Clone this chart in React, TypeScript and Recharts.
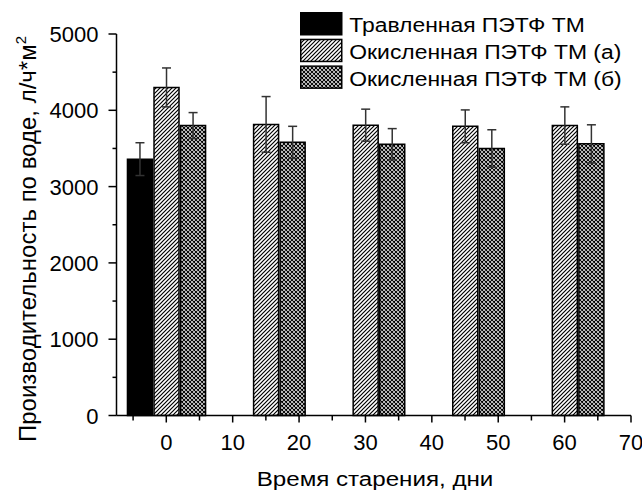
import React from 'react';
import { ComposedChart, Bar, XAxis, YAxis, ErrorBar, Cell, Legend } from 'recharts';

const seriesNames = ['Травленная ПЭТФ ТМ', 'Окисленная ПЭТФ ТМ (а)', 'Окисленная ПЭТФ ТМ (б)'];
const etchedDays = [-4];
const etchedValues = [3360];
const etchedErrors = [215];
const oxADays = [0, 15, 30, 45, 60];
const oxAValues = [4300, 3815, 3805, 3790, 3800];
const oxAErrors = [255, 365, 210, 215, 245];
const oxBDays = [4, 19, 34, 49, 64];
const oxBValues = [3800, 3580, 3555, 3500, 3560];
const oxBErrors = [170, 210, 205, 245, 250];
const xTicks = [-5, 0, 5, 10, 15, 20, 25, 30, 35, 40, 45, 50, 55, 60, 65, 70];
const yTicks = [0, 500, 1000, 1500, 2000, 2500, 3000, 3500, 4000, 4500, 5000];
const xTitle = 'Время старения, дни';
const yTitle = 'Производительность по воде, л/ч*м';
const yTitleSup = '2';

const FONT = '"Liberation Sans", Arial, sans-serif';
const fills = ['#000000', 'url(#hatchA)', 'url(#hatchB)'];

type Row = { x: number; value: number; err: number; kind: number };
const data: Row[] = [
  ...etchedDays.map((d, i) => ({ x: d, value: etchedValues[i], err: etchedErrors[i], kind: 0 })),
  ...oxADays.map((d, i) => ({ x: d, value: oxAValues[i], err: oxAErrors[i], kind: 1 })),
  ...oxBDays.map((d, i) => ({ x: d, value: oxBValues[i], err: oxBErrors[i], kind: 2 })),
].sort((a, b) => a.x - b.x);

const XTick = (props: any) => {
  const { x, y, payload } = props;
  const v = payload.value;
  const major = v % 10 === 0;
  return (
    <g>
      <line x1={x} x2={x} y1={y} y2={y + (major ? 7 : 5)} stroke="#000" strokeWidth={1.5} />
      {major && (
        <text x={x} y={y + 34} textAnchor="middle" fontFamily={FONT} fontSize={22} fill="#000">
          {v}
        </text>
      )}
    </g>
  );
};

const YTick = (props: any) => {
  const { x, y, payload } = props;
  const v = payload.value;
  const major = v % 1000 === 0;
  return (
    <g>
      <line x1={x} x2={x - (major ? 8 : 4)} y1={y} y2={y} stroke="#000" strokeWidth={1.5} />
      {major && (
        <text x={x - 18} y={y + 8} textAnchor="end" fontFamily={FONT} fontSize={22} fill="#000">
          {v}
        </text>
      )}
    </g>
  );
};

const LegendContent = () => (
  <svg width={340} height={80} style={{ display: 'block' }}>
    {seriesNames.map((name, i) => (
      <g key={name}>
        <rect x={0.75} y={0.75 + i * 26.7} width={41} height={22} fill={fills[i]} stroke="#000" strokeWidth={1.5} />
        <text
          transform={`translate(49.3, ${20.3 + i * 26.7}) scale(1.09, 1)`}
          x={0}
          y={0}
          fontFamily={FONT}
          fontSize={21}
          fill="#000"
        >
          {name}
        </text>
      </g>
    ))}
  </svg>
);

export default function App() {
  return (
    <div style={{ position: 'absolute', left: 0, top: 0, width: 642, height: 491, background: '#fff' }}>
      <svg width={0} height={0} style={{ position: 'absolute' }}>
        <defs>
          <pattern id="hatchA" patternUnits="userSpaceOnUse" width={4} height={4}>
            <rect width={4} height={4} fill="#fff" />
            <path d="M0,4 L4,0 M-1,1 L1,-1 M3,5 L5,3" stroke="#000" strokeWidth={1.2} />
          </pattern>
          <pattern id="hatchB" patternUnits="userSpaceOnUse" width={4} height={4}>
            <rect width={4} height={4} fill="#fff" />
            <path d="M0,4 L4,0 M-1,1 L1,-1 M3,5 L5,3 M0,0 L4,4 M-1,3 L1,5 M3,-1 L5,1" stroke="#000" strokeWidth={1.1} />
          </pattern>
        </defs>
      </svg>
      <ComposedChart width={642} height={491} data={data} margin={{ top: 34, right: 11, bottom: 0, left: 0 }}>
        <XAxis
          dataKey="x"
          type="number"
          domain={[-7.5, 70]}
          allowDataOverflow
          ticks={xTicks}
          interval={0}
          tick={<XTick />}
          tickLine={false}
          tickSize={0}
          tickMargin={0}
          height={75.5}
          axisLine={{ stroke: '#000', strokeWidth: 1.5 }}
          label={{
            content: () => (
              <text
                transform="translate(375, 485.5) scale(1.15, 1)"
                x={0}
                y={0}
                textAnchor="middle"
                fontFamily={FONT}
                fontSize={21}
                fill="#000"
              >
                {xTitle}
              </text>
            ),
          }}
        />
        <YAxis
          type="number"
          domain={[0, 5000]}
          ticks={yTicks}
          interval={0}
          tick={<YTick />}
          tickLine={false}
          tickSize={0}
          tickMargin={0}
          width={116.5}
          axisLine={{ stroke: '#000', strokeWidth: 1.5 }}
          label={{
            content: () => (
              <text
                x={36}
                y={239}
                transform="rotate(-90, 36, 239)"
                textAnchor="middle"
                fontFamily={FONT}
                fontSize={24}
                fill="#000"
              >
                {yTitle}
                <tspan dy={-10} fontSize={15}>
                  {yTitleSup}
                </tspan>
              </text>
            ),
          }}
        />
        <Legend
          layout="vertical"
          align="center"
          verticalAlign="middle"
          content={<LegendContent />}
          wrapperStyle={{ left: 300, top: 12, width: 340, height: 80 }}
        />
        <Bar dataKey="value" barSize={25} isAnimationActive={false} stroke="#000" strokeWidth={1.5}>
          {data.map((d, i) => (
            <Cell key={i} fill={fills[d.kind]} />
          ))}
          <ErrorBar dataKey="err" width={4.5} stroke="#333" strokeWidth={1.5} direction="y" />
        </Bar>
      </ComposedChart>
    </div>
  );
}
